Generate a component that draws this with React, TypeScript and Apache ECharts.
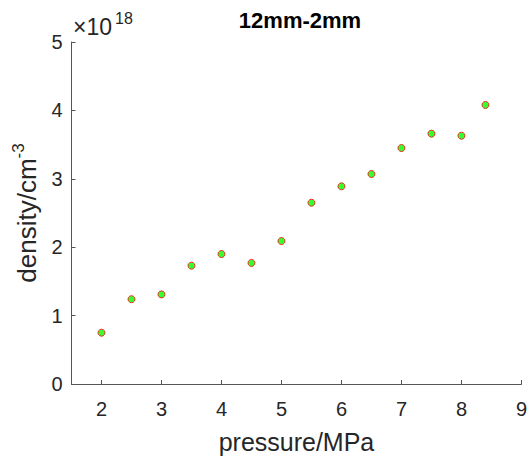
import React, { useEffect, useRef } from "react";
import * as echarts from "echarts";

const pressures = [2, 2.5, 3, 3.5, 4, 4.5, 5, 5.5, 6, 6.5, 7, 7.5, 8, 8.4];
// density in units of 1e18 cm^-3
const densities = [0.75, 1.24, 1.31, 1.73, 1.90, 1.77, 2.09, 2.65, 2.89, 3.07, 3.45, 3.66, 3.63, 4.08];
const xTicks = [2, 3, 4, 5, 6, 7, 8, 9];
const titleText = "12mm-2mm";
const xName = "pressure/MPa";
const exponentText = "18";

const FONT = "'Liberation Sans', Arial, Helvetica, sans-serif";
const AX = "#262626";

export default function App() {
  const ref = useRef<HTMLDivElement>(null);
  useEffect(() => {
    if (!ref.current) return;
    const chart = echarts.init(ref.current, undefined, { renderer: "svg" });
    const left = 71.5;
    const right = 3;
    const top = 42;
    const bottom = 73.5;
    chart.setOption({
      animation: false,
      backgroundColor: "#ffffff",
      textStyle: { fontFamily: FONT },
      grid: { left, right, top, bottom, containLabel: false },
      xAxis: {
        type: "value",
        min: 1.5,
        max: 9,
        name: xName,
        nameLocation: "middle",
        nameGap: 45,
        nameTextStyle: { fontSize: 25, color: AX, fontFamily: FONT },
        axisLine: { show: true, lineStyle: { color: "#555", width: 1 } },
        axisTick: { show: true, inside: true, length: 4, customValues: xTicks, lineStyle: { color: "#555" } },
        axisLabel: { customValues: xTicks, fontSize: 20, color: AX, margin: 15, fontFamily: FONT, showMaxLabel: true },
        splitLine: { show: false },
      },
      yAxis: {
        type: "value",
        min: 0,
        max: 5,
        interval: 1,
        name: "density/cm{sup|-3}",
        nameLocation: "middle",
        nameGap: 23,
        nameRotate: 90,
        nameTextStyle: {
          fontSize: 26,
          color: AX,
          fontFamily: FONT,
          rich: {
            sup: { fontSize: 17, color: AX, fontFamily: FONT, padding: [0, 0, 17, 0] },
          },
        },
        axisLine: { show: true, lineStyle: { color: "#555", width: 1 } },
        axisTick: { show: true, inside: true, length: 4, lineStyle: { color: "#555" } },
        axisLabel: { fontSize: 20, color: AX, margin: 9, fontFamily: FONT },
        splitLine: { show: false },
      },
      graphic: [
        {
          type: "text",
          x: 300,
          y: 20,
          style: {
            text: titleText,
            font: `bold 22px ${FONT}`,
            fill: "#000",
            textAlign: "center",
            textVerticalAlign: "middle",
          },
        },
        {
          type: "text",
          x: 73,
          y: 27,
          style: {
            text: "×10",
            font: `23px ${FONT}`,
            fill: AX,
            textAlign: "left",
            textVerticalAlign: "middle",
          },
        },
        {
          type: "text",
          x: 115,
          y: 18,
          style: {
            text: exponentText,
            font: `16px ${FONT}`,
            fill: AX,
            textAlign: "left",
            textVerticalAlign: "middle",
          },
        },
      ],
      series: [
        {
          type: "scatter",
          data: pressures.map((p, i) => [p, densities[i]]),
          symbol: "circle",
          symbolSize: 7,
          itemStyle: { color: "#00ff00", borderColor: "#ff0000", borderWidth: 1 },
        },
      ],
    });
    return () => chart.dispose();
  }, []);
  return (
    <div
      ref={ref}
      style={{ position: "fixed", left: 0, top: 0, width: 530, height: 459, background: "#fff" }}
    />
  );
}
